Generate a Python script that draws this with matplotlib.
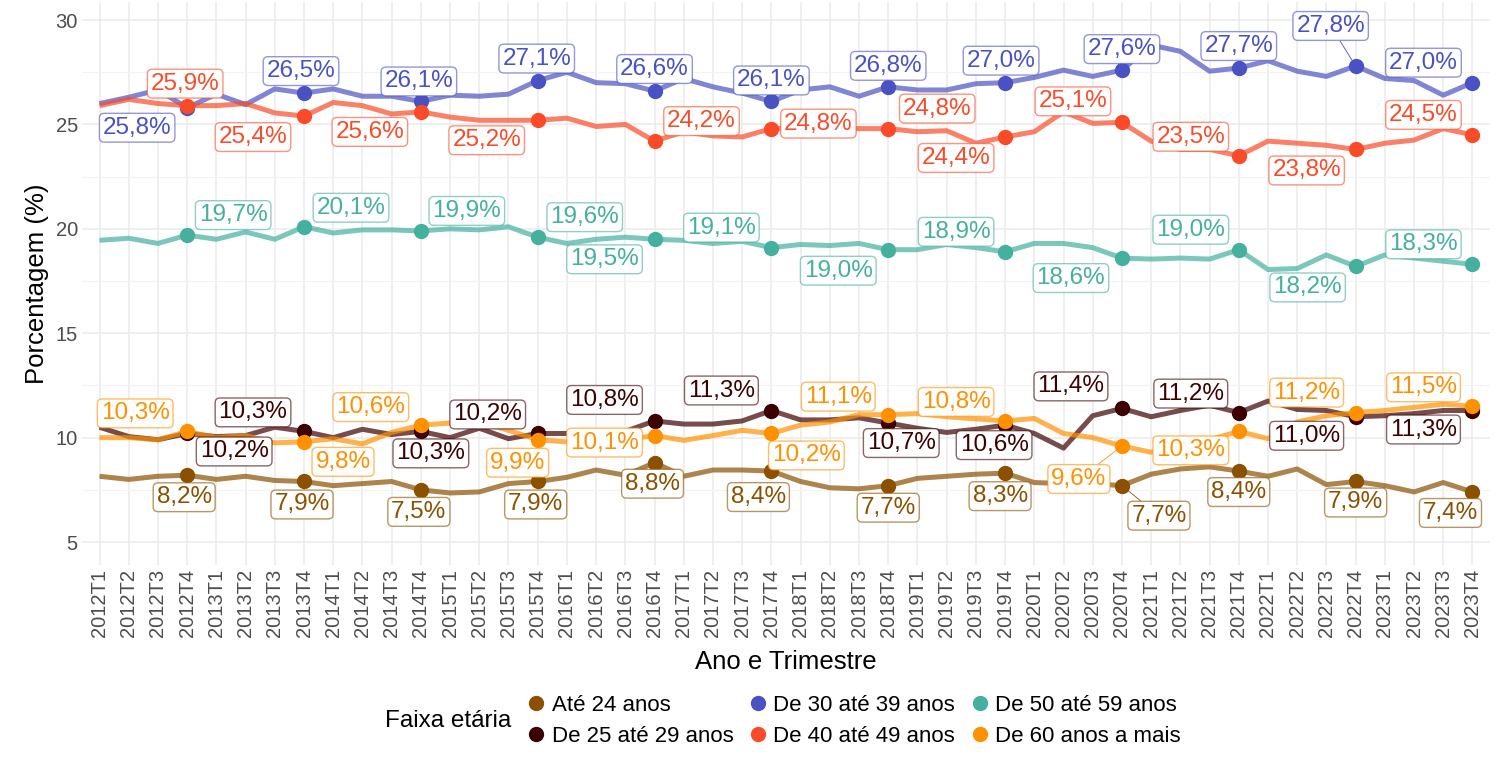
import numpy as np
import matplotlib
matplotlib.use("Agg")
import matplotlib.pyplot as plt
from matplotlib.lines import Line2D

plt.rcParams['font.family'] = ['Liberation Sans', 'DejaVu Sans']

# quarters 2012T1 .. 2023T4
quarters = [f"{y}T{q}" for y in range(2012, 2024) for q in range(1, 5)]

faixas = ['Até 24 anos', 'De 25 até 29 anos', 'De 30 até 39 anos',
          'De 40 até 49 anos', 'De 50 até 59 anos', 'De 60 anos a mais']

ate24 = [8.15, 8.0, 8.15, 8.2, 8.0, 8.15, 7.95, 7.9, 7.7, 7.8, 7.9, 7.5,
         7.35, 7.4, 7.8, 7.9, 8.1, 8.45, 8.2, 8.8, 8.15, 8.45, 8.45, 8.4,
         7.9, 7.6, 7.55, 7.7, 8.05, 8.15, 8.25, 8.3, 7.85, 7.8, 7.8, 7.7,
         8.25, 8.5, 8.6, 8.4, 8.15, 8.5, 7.75, 7.9, 7.7, 7.4, 7.85, 7.4]
de25_29 = [10.5, 10.05, 9.9, 10.2, 10.05, 10.1, 10.5, 10.3, 10.0, 10.4, 10.15, 10.3,
           10.0, 10.45, 9.95, 10.2, 10.2, 10.3, 10.3, 10.8, 10.65, 10.65, 10.8, 11.3,
           10.85, 10.85, 10.95, 10.7, 10.45, 10.25, 10.4, 10.6, 10.2, 9.5, 11.05, 11.4,
           11.0, 11.3, 11.55, 11.2, 11.75, 11.35, 11.3, 11.0, 11.05, 11.15, 11.3, 11.3]
de30_39 = [26.0, 26.3, 26.65, 25.8, 26.45, 25.95, 26.7, 26.5, 26.7, 26.35, 26.35, 26.1,
           26.4, 26.35, 26.45, 27.1, 27.5, 27.0, 26.95, 26.6, 27.2, 26.8, 26.5, 26.1,
           26.65, 26.8, 26.35, 26.8, 26.65, 26.65, 26.95, 27.0, 27.25, 27.6, 27.3, 27.6,
           28.8, 28.5, 27.55, 27.7, 28.05, 27.55, 27.3, 27.8, 27.2, 27.1, 26.4, 27.0]
de40_49 = [25.9, 26.2, 26.0, 25.9, 25.9, 26.0, 25.55, 25.4, 26.05, 25.9, 25.5, 25.6,
           25.35, 25.2, 25.2, 25.2, 25.3, 24.9, 25.0, 24.2, 24.65, 24.45, 24.4, 24.8,
           24.8, 24.8, 24.8, 24.8, 24.65, 24.7, 24.1, 24.4, 24.65, 25.6, 25.05, 25.1,
           24.2, 23.8, 23.8, 23.5, 24.2, 24.1, 24.0, 23.8, 24.1, 24.25, 24.8, 24.5]
de50_59 = [19.45, 19.55, 19.3, 19.7, 19.5, 19.85, 19.5, 20.1, 19.8, 19.95, 19.95, 19.9,
           20.0, 19.95, 20.1, 19.6, 19.3, 19.5, 19.6, 19.5, 19.45, 19.3, 19.4, 19.1,
           19.25, 19.2, 19.3, 19.0, 19.0, 19.25, 19.1, 18.9, 19.3, 19.3, 19.1, 18.6,
           18.55, 18.6, 18.55, 19.0, 18.05, 18.1, 18.75, 18.2, 18.75, 18.6, 18.45, 18.3]
de60 = [10.0, 10.0, 9.9, 10.3, 10.0, 10.1, 9.75, 9.8, 9.95, 9.7, 10.25, 10.6,
        10.7, 10.75, 10.35, 9.9, 9.8, 9.8, 9.9, 10.1, 9.87, 10.1, 10.35, 10.2,
        10.6, 10.75, 11.1, 11.1, 11.15, 11.0, 10.9, 10.8, 10.92, 10.2, 10.0, 9.6,
        9.3, 9.7, 9.9, 10.3, 9.95, 10.75, 11.05, 11.2, 11.3, 11.45, 11.6, 11.5]

series = [ate24, de25_29, de30_39, de40_49, de50_59, de60]
cores = ['#8B5000', '#3D0000', '#4A51C2', '#FA4B28', '#45B09E', '#FF9000']

# label offsets in pixels (dx, dy; dy positive = down), one per T4 point
offs = [
    [(-3, 22), (-2, 23), (-2, 22), (-2, 23), (-2, 21), (-13, 26), (0, 22), (-5, 23),
     (37, 30), (0, 21), (0, 21), (-22, 21)],
    [(47, 18), (-51, -19), (10, 22), (-50, -19), (-50, -21), (-50, -20), (13, 20), (-11, 20),
     (-51, -22), (-48, -19), (-49, 19), (-49, 19)],
    [(-50, 20), (-3, -22), (-2, -20), (-1, -22), (0, -22), (0, -21), (0, -21), (-4, -22),
     (0, -21), (0, -22), (-25, -40), (-49, -20)],
    [(-2, -22), (-51, 21), (-51, 20), (-51, 20), (47, -20), (47, -5), (49, -20), (-49, 21),
     (-49, -21), (-48, -19), (-49, 21), (-49, -20)],
    [(46, -20), (47, -19), (46, -20), (47, -20), (-50, 20), (-50, -20), (-50, 21), (-49, -20),
     (-51, 20), (-48, -20), (-48, 21), (-49, -20)],
    [(-52, -18), (39, 20), (-50, -18), (-20, 23), (-50, 7), (35, 22), (-50, -18), (-49, -19),
     (-43, 33), (-48, 19), (-49, -20), (-49, -19)],
]

x = np.arange(len(quarters))
t4 = [i for i, q in enumerate(quarters) if q.endswith('T4')]

fig = plt.figure(figsize=(14.99, 7.57), dpi=100)
ax = fig.add_axes([0.0547, 0.2536, 0.9393, 0.7434])

for s, c in zip(series, cores):
    ax.plot(x, s, color=c, lw=3.6, alpha=0.7, solid_capstyle='butt', zorder=2)
for s, c in zip(series, cores):
    ax.plot(x[t4], np.array(s)[t4], 'o', color=c, ms=10, zorder=3)

for s, c, off in zip(series, cores, offs):
    for i, (dx, dy) in zip(t4, off):
        txt = f"{s[i]:.1f}%".replace('.', ',')
        far = abs(dx) > 30 and abs(dy) > 25 or abs(dy) > 35
        ax.annotate(txt, (x[i], s[i]), xytext=(dx, -dy), textcoords='offset pixels',
                    ha='center', va='center', color=c, fontsize=17.5, zorder=5,
                    bbox=dict(boxstyle='round,pad=0.14,rounding_size=0.2', fc='white',
                              ec=matplotlib.colors.to_rgba(c, 0.6), lw=1.0),
                    arrowprops=dict(arrowstyle='-', color=c, lw=0.6, shrinkA=0, shrinkB=5)
                    if far else None)

ax.set_xlim(-0.6, len(quarters) - 0.4)
ax.set_ylim(3.9, 30.85)
ax.set_yticks([5, 10, 15, 20, 25, 30])
ax.set_yticks([7.5, 12.5, 17.5, 22.5, 27.5], minor=True)
ax.set_xticks(x)
ax.set_xticklabels(quarters, rotation=90)
ax.tick_params(axis='both', which='both', length=0, labelsize=14.5, labelcolor='#4D4D4D', pad=3)
ax.grid(True, which='major', color='#EBEBEB', lw=1.1)
ax.grid(True, which='minor', axis='y', color='#F3F3F3', lw=0.8)
ax.set_axisbelow(True)
for sp in ax.spines.values():
    sp.set_visible(False)

ax.set_ylabel('Porcentagem (%)', fontsize=18.5, labelpad=5)
ax.set_xlabel('Ano e Trimestre', fontsize=18.5, labelpad=9)

handles = [Line2D([], [], ls='', marker='o', ms=10, color=c) for c in cores]
fig.legend(handles, faixas, ncol=3, loc='center', bbox_to_anchor=(0.569, 0.0476),
           frameon=False, fontsize=16, handletextpad=0.2, columnspacing=0.6,
           labelspacing=0.45, handlelength=1.0)
fig.text(0.257, 0.0476, 'Faixa etária', fontsize=17.5, va='center', ha='left')

fig.savefig('out.png', dpi=100)
